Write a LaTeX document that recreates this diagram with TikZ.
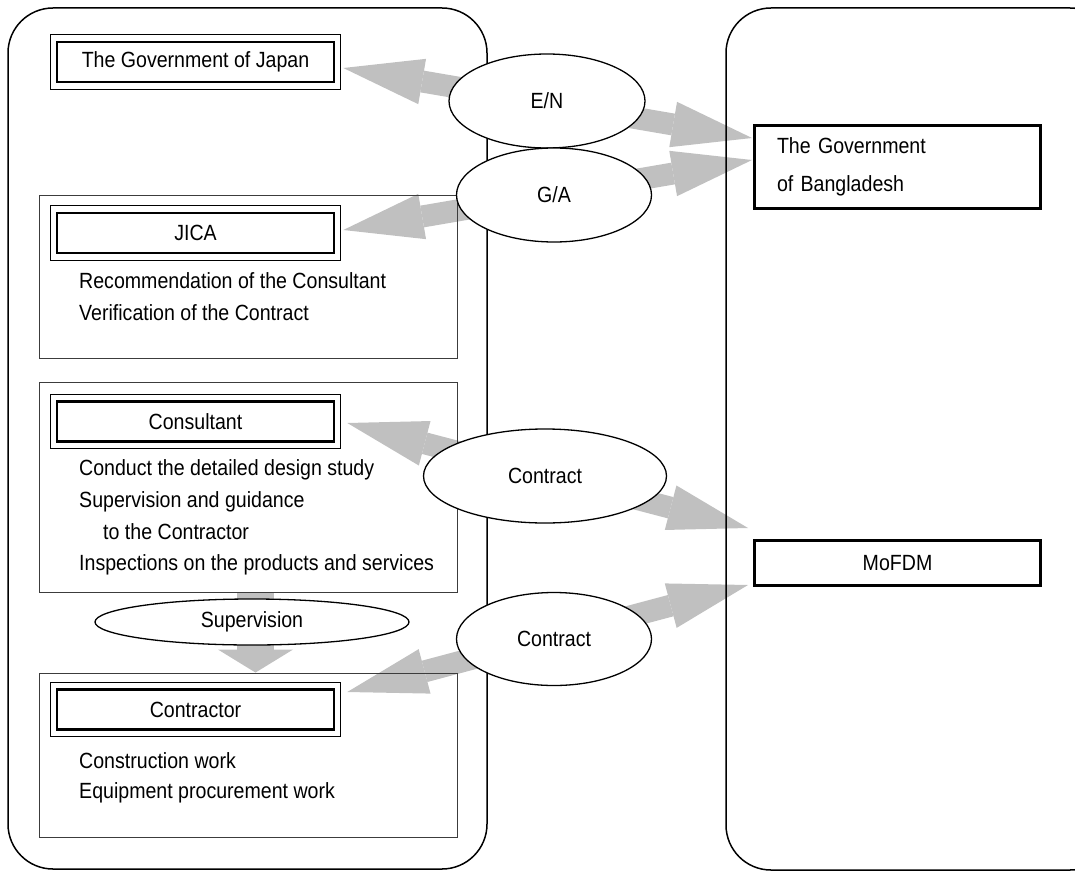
\documentclass[tikz,border=0pt]{standalone}
\usepackage{fontspec}
\setmainfont{Liberation Sans}[FakeStretch=0.89]
\usetikzlibrary{positioning,arrows.meta,shapes.geometric,backgrounds}
\definecolor{jpGray}{RGB}{192,192,192}
\definecolor{jpLine}{RGB}{60,60,60}
\tikzset{
    base/.style={font=\fontsize{22}{26}\selectfont, inner sep=0pt},
    party/.style={base, rectangle, draw, line width=2.6pt, minimum width=277pt, minimum height=40pt},
    partyframe/.style={draw, line width=1.2pt},
    group/.style={rectangle, draw=jpLine, line width=0.9pt, minimum width=418pt},
    topic/.style={base, ellipse, draw, line width=1.3pt, fill=white},
    govbox/.style={base, rectangle, draw, line width=3pt, minimum width=286pt},
    area/.style={draw, line width=1.5pt, rounded corners=45pt},
    item/.style={base, anchor=base west},
    flow/.style={draw=jpGray, line width=22pt, >={Triangle[length=80pt,width=46pt,line width=0pt]}, <->},
    press/.style={draw=jpGray, line width=37pt, >={Triangle[length=23pt,width=75pt,line width=0pt]}, ->}
}

\begin{document}
\begin{tikzpicture}[x=1pt, y=-1pt]
    \useasboundingbox (0,0) rectangle (1075,872);

    % Two sides
    \draw[area] (8,8) rectangle (487,869);
    \draw[area] (726,8) rectangle (1115,870);

    % Group frames
    \node[group, minimum height=163pt] (jicagrp) at (248,276.5) {};
    \node[group, minimum height=210pt] (consulgrp) at (248,487) {};
    \node[group, minimum height=164pt] (contrgrp) at (248,755) {};

    % Parties on the Japanese side
    \node[party] (japan) at (195.5,62) {The Government of Japan};
    \node[party] (jica) at (195.5,233) {JICA};
    \node[party] (consul) at (195.5,421.5) {Consultant};
    \node[party] (contr) at (195.5,709.5) {Contractor};
    \foreach \n in {japan,jica,consul,contr}
        \draw[partyframe] ([xshift=-5pt,yshift=6pt]\n.north west) rectangle ([xshift=5pt,yshift=-6pt]\n.south east);

    % Tasks
    \foreach \t [count=\i from 0] in {Recommendation of the Consultant, Verification of the Contract}
        \node[item] (jicatask\i) at (79,{288+32*\i}) {\t};
    \node[item] (consultask1) at (79,475) {Conduct the detailed design study};
    \node[item] (consultask2) at (79,507) {Supervision and guidance};
    \node[item] (consultask3) at (103,539) {to the Contractor};
    \node[item] (consultask4) at (79,570) {Inspections on the products and services};
    \node[item] (contrtask1) at (79,768) {Construction work};
    \node[item] (contrtask2) at (79,798) {Equipment procurement work};

    % Bangladesh side
    \node[govbox, minimum height=83pt, text width=241pt, align=left, inner xsep=22.5pt,
          font=\fontsize{22}{38}\selectfont] (bgd) at (897.5,167) {The Government\\of Bangladesh};
    \node[govbox, minimum height=45pt] (mofdm) at (897.5,563) {MoFDM};

    % Agreements
    \node[topic, minimum width=196pt, minimum height=94pt] (en) at (547,101) {E/N};
    \node[topic, minimum width=195pt, minimum height=94pt] (ga) at (554,195) {G/A};
    \node[topic, minimum width=243pt, minimum height=94pt] (contract1) at (545,476) {Contract};
    \node[topic, minimum width=195pt, minimum height=93pt] (contract2) at (554,639) {Contract};
    \node[topic, minimum width=314pt, minimum height=46pt] (superv) at (252,622) {Supervision};

    % Block arrows behind everything
    \begin{scope}[on background layer]
        \draw[flow] ([xshift=8pt,yshift=-6pt]japan.east) -- ([xshift=-1pt,yshift=29pt]bgd.west);
        \draw[flow] ([xshift=8pt,yshift=3pt]jica.east) -- ([xshift=-1pt,yshift=7pt]bgd.west);
        \draw[flow] ([xshift=12pt,yshift=-1.5pt]consul.east) -- ([xshift=-5pt,yshift=35pt]mofdm.west);
        \draw[flow] ([xshift=12pt,yshift=17.5pt]contr.east) -- ([xshift=-5pt,yshift=-22pt]mofdm.west);
        \draw[press] ([xshift=7.5pt]consulgrp.south) -- ([xshift=7.5pt]contrgrp.north);
    \end{scope}
\end{tikzpicture}
\end{document}
